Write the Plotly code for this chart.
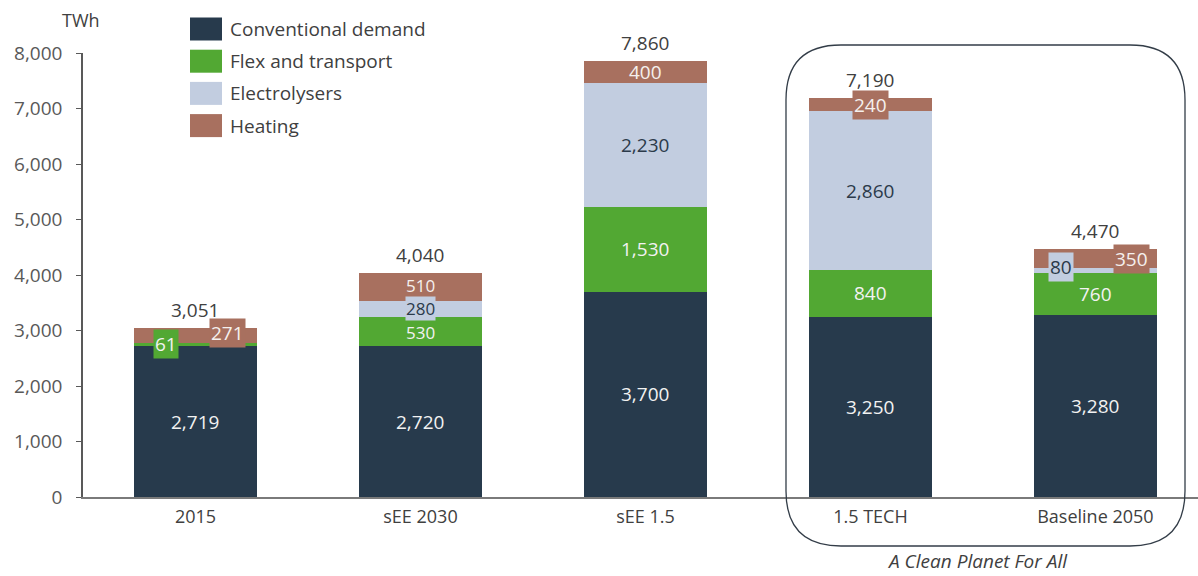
import plotly.graph_objects as go

# Electricity demand by scenario (TWh)
scenarios = ["2015", "sEE 2030", "sEE 1.5", "1.5 TECH", "Baseline 2050"]
conventional = [2719, 2720, 3700, 3250, 3280]
flex_transport = [61, 530, 1530, 840, 760]
electrolysers = [0, 280, 2230, 2860, 80]
heating = [271, 510, 400, 240, 350]
totals = [3051, 4040, 7860, 7190, 4470]

series_names = ["Conventional demand", "Flex and transport", "Electrolysers", "Heating"]
series_values = [conventional, flex_transport, electrolysers, heating]
colors = ["#273a4c", "#52a833", "#c2cde0", "#a8705f"]
label_colors = ["#f2f2f2", "#f2f2f2", "#2b3a4a", "#f5f0ee"]

W, H = 1198, 576
ML, MR, MT, MB = 83, 0, 53, 79
PW, PH = W - ML - MR, H - MT - MB
FONT = "Open Sans"


def px_x(p):
    return (p - ML) / PW


def px_y(p):
    return (H - MB - p) / PH


fig = go.Figure()
for name, vals, col in zip(series_names, series_values, colors):
    fig.add_trace(go.Bar(
        x=scenarios, y=vals, name=name, marker=dict(color=col, line=dict(width=0)),
        hoverinfo="x+y+name", showlegend=False,
    ))

# segment labels: (series index, scenario index) -> (x shift px, y shift px, boxed)
label_style = {
    (1, 0): (-29, 0, True),
    (3, 0): (32, 2, True),
    (1, 1): (0, -1, False),
    (2, 1): (0, 0, True),
    (3, 1): (0, 1, False),
    (3, 3): (0, 0, True),
    (2, 4): (-34, 4, True),
    (3, 4): (36, 0, True),
}
# tightly stacked labels use a slightly smaller size
small_labels = {(1, 1), (2, 1), (3, 1)}

annotations = []
for j, scen in enumerate(scenarios):
    base = 0
    for i, vals in enumerate(series_values):
        v = vals[j]
        if v > 0:
            dx, dy, boxed = label_style.get((i, j), (0, 0, False))
            size = 17 if (i, j) in small_labels else 19
            annotations.append(dict(
                x=j, y=base + v / 2, xref="x", yref="y", text=f"{v:,}",
                showarrow=False, xshift=dx, yshift=dy,
                font=dict(family=FONT, size=size, color=label_colors[i]),
                bgcolor=colors[i] if boxed else None,
                borderpad=0 if (i, j) in small_labels else 1,
            ))
        base += v
    annotations.append(dict(
        x=j, y=totals[j], xref="x", yref="y", text=f"{totals[j]:,}",
        showarrow=False, yanchor="bottom", yshift=3,
        font=dict(family=FONT, size=19, color="#404040"),
    ))

annotations.append(dict(
    x=px_x(81), y=px_y(20), xref="paper", yref="paper", text="TWh", showarrow=False,
    font=dict(family=FONT, size=18, color="#404040"), xanchor="center", yanchor="middle",
))
annotations.append(dict(
    x=px_x(977), y=px_y(561), xref="paper", yref="paper", text="<i>A Clean Planet For All</i>",
    showarrow=False, font=dict(family=FONT, size=19, color="#404040"),
    xanchor="center", yanchor="middle",
))

shapes = []
# custom legend
for k, (name, col) in enumerate(zip(series_names, colors)):
    cy = 29 + k * 32.2
    shapes.append(dict(
        type="rect", xref="paper", yref="paper",
        x0=px_x(190), x1=px_x(222), y0=px_y(cy - 11.5), y1=px_y(cy + 11.5),
        fillcolor=col, line=dict(width=0),
    ))
    annotations.append(dict(
        x=px_x(228), y=px_y(cy), xref="paper", yref="paper", text=name, showarrow=False,
        xanchor="left", yanchor="middle", font=dict(family=FONT, size=19, color="#404040"),
    ))

# rounded frame around the Clean Planet scenarios
bx0, bx1, by0, by1, r = 786, 1185, 45, 546, 55
pts = [
    ("M", bx0 + r, by0), ("L", bx1 - r, by0), ("Q", bx1, by0, bx1, by0 + r),
    ("L", bx1, by1 - r), ("Q", bx1, by1, bx1 - r, by1), ("L", bx0 + r, by1),
    ("Q", bx0, by1, bx0, by1 - r), ("L", bx0, by0 + r), ("Q", bx0, by0, bx0 + r, by0),
]
path = ""
for p in pts:
    cmd, coords = p[0], p[1:]
    xy = []
    for a in range(0, len(coords), 2):
        xy.append(f"{px_x(coords[a]):.5f},{px_y(coords[a + 1]):.5f}")
    path += cmd + " ".join(xy) + " "
path += "Z"
shapes.append(dict(type="path", xref="paper", yref="paper", path=path,
                   line=dict(color="#333d48", width=1.3), fillcolor="rgba(0,0,0,0)"))

fig.update_layout(
    width=W, height=H, barmode="stack", bargap=0.45,
    margin=dict(l=ML, r=MR, t=MT, b=MB),
    plot_bgcolor="white", paper_bgcolor="white",
    font=dict(family=FONT, color="#404040"),
    annotations=annotations, shapes=shapes, showlegend=False,
    xaxis=dict(
        type="category", range=[-0.5, 4.456], showline=True, linecolor="#7a7a7a",
        linewidth=1.5, ticks="", tickfont=dict(size=18, color="#404040"),
        showgrid=False, ticklabelstandoff=3,
    ),
    yaxis=dict(
        range=[0, 8000], dtick=1000, tickformat=",d", showline=True,
        linecolor="#595959", linewidth=1.5, ticks="outside", ticklen=5,
        tickcolor="#595959", tickfont=dict(size=19, color="#595959"),
        showgrid=False, zeroline=False, ticklabelstandoff=10,
    ),
)

fig.write_html("out.html")
